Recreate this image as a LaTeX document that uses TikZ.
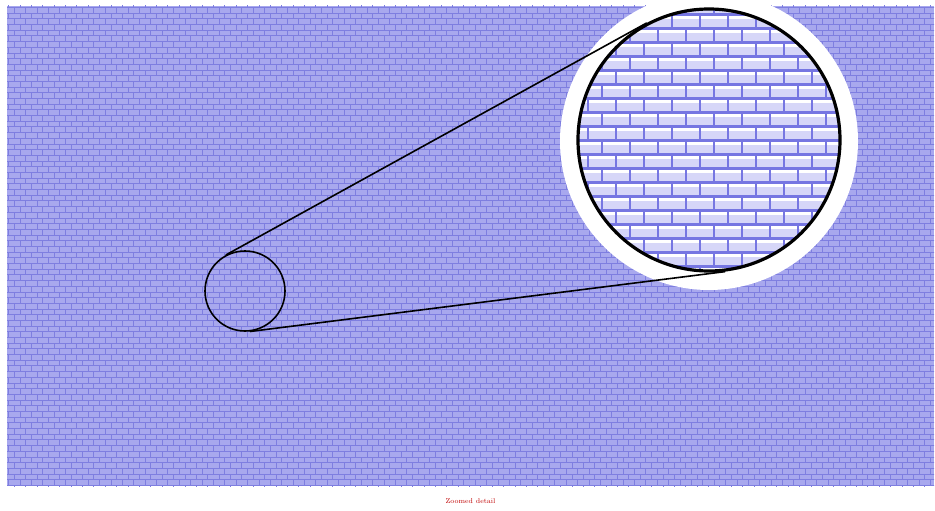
\documentclass[tikz,border=0pt]{standalone}
\usetikzlibrary{positioning, patterns}
\definecolor{wallbase}{RGB}{168,168,238}
\definecolor{wallline}{RGB}{126,126,224}
\definecolor{brickfill}{RGB}{214,214,248}
\definecolor{brickline}{RGB}{118,118,226}

\begin{document}
\begin{tikzpicture}[
    x=1pt, y=-1pt,
    wall/.style={
        rectangle,
        fill=wallbase,
        postaction={pattern=bricks, pattern color=wallline},
        minimum width=927pt,
        minimum height=480pt,
        inner sep=0pt
    },
    spot/.style={
        circle,
        draw=black,
        line width=1.6pt,
        minimum size=80pt,
        inner sep=0pt
    },
    ring/.style={
        circle,
        fill=white,
        minimum size=298pt,
        inner sep=0pt
    },
    lens/.style={
        circle,
        draw=black,
        line width=3.2pt,
        minimum size=262pt,
        inner sep=0pt
    },
    connector/.style={
        line width=1.6pt,
        color=black
    },
    caption/.style={
        font=\fontsize{7}{8}\selectfont,
        text=red!75!black
    }
]
\useasboundingbox (0,0) rectangle (935,511);

% Nodes
\node[wall] (wall) at (470.5,246) {};
\node[spot] (spot) at (245,291) {};
\node[ring] (ring) at (709,141) {};

% Magnified bricks
\begin{scope}
    \clip (709,140) circle (130);
    \fill[brickfill] (709,140) circle (130);
    \foreach \r in {0,...,19} {
        \pgfmathsetmacro{\ytop}{0.7+14*\r}
        \pgfmathsetmacro{\xoff}{672+14*mod(\r+1,2)}
        \draw[white, line width=2.5pt] (570,\ytop+2.6) -- (850,\ytop+2.6);
        \draw[brickline, line width=2.6pt] (570,\ytop) -- (850,\ytop);
        \foreach \c in {-4,...,6}
            \draw[brickline, line width=2.4pt] (\xoff+28*\c,\ytop) -- ++(0,14);
    }
\end{scope}

\node[lens] (lens) at (709,140) {};

% Connectors
\draw[connector] (spot.118.8) -- (lens.118.8);
\draw[connector] (spot.277.3) -- (lens.277.3);

% Caption
\node[caption, below=9pt of wall] (cap) {Zoomed detail};

\end{tikzpicture}
\end{document}
